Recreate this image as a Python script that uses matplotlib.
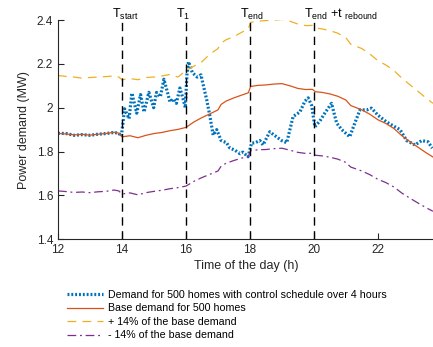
import numpy as np
import matplotlib
matplotlib.use("Agg")
import matplotlib.pyplot as plt

plt.rcParams['font.family'] = ['Liberation Sans', 'DejaVu Sans']
plt.rcParams['mathtext.fontset'] = 'custom'
plt.rcParams['mathtext.rm'] = 'Liberation Sans'

# base demand for 500 homes
t_base = [12.0, 12.25, 12.5, 12.75, 13.0, 13.25, 13.5, 13.75, 13.9, 14.0, 14.25, 14.5,
          14.75, 15.0, 15.25, 15.5, 15.75, 16.0, 16.25, 16.5, 16.75, 17.0, 17.1, 17.25,
          17.5, 17.75, 17.95, 18.02, 18.25, 18.5, 18.75, 19.0, 19.25, 19.5, 19.75, 19.95,
          20.05, 20.25, 20.5, 20.75, 21.0, 21.15, 21.5, 21.75, 22.0, 22.25, 22.5, 22.75,
          23.0, 23.25, 23.5, 23.72]
base = [1.883, 1.880, 1.876, 1.878, 1.875, 1.879, 1.882, 1.888, 1.884, 1.867, 1.872, 1.863,
        1.874, 1.882, 1.887, 1.895, 1.901, 1.910, 1.935, 1.955, 1.972, 1.990, 2.015, 2.030,
        2.045, 2.058, 2.068, 2.097, 2.102, 2.104, 2.108, 2.110, 2.100, 2.088, 2.083, 2.084,
        2.073, 2.070, 2.063, 2.052, 2.035, 2.010, 1.990, 1.970, 1.945, 1.928, 1.905, 1.872,
        1.845, 1.820, 1.795, 1.775]
upper = [2.147, 2.143, 2.140, 2.135, 2.138, 2.140, 2.142, 2.145, 2.140, 2.128, 2.133, 2.128,
         2.138, 2.140, 2.145, 2.152, 2.140, 2.170, 2.190, 2.210, 2.245, 2.270, 2.295, 2.310,
         2.325, 2.345, 2.360, 2.390, 2.395, 2.398, 2.400, 2.403, 2.395, 2.382, 2.375, 2.376,
         2.364, 2.360, 2.352, 2.340, 2.320, 2.290, 2.270, 2.245, 2.215, 2.195, 2.170, 2.135,
         2.105, 2.075, 2.045, 2.020]
lower = [1.620, 1.617, 1.613, 1.615, 1.612, 1.616, 1.618, 1.624, 1.620, 1.606, 1.611, 1.602,
         1.612, 1.618, 1.623, 1.630, 1.635, 1.642, 1.664, 1.681, 1.696, 1.711, 1.733, 1.746,
         1.759, 1.770, 1.778, 1.803, 1.808, 1.809, 1.813, 1.815, 1.806, 1.796, 1.791, 1.792,
         1.783, 1.780, 1.774, 1.765, 1.750, 1.729, 1.711, 1.694, 1.673, 1.658, 1.638, 1.610,
         1.587, 1.565, 1.544, 1.527]

# demand with control schedule
t_ctrl = [12.0, 12.25, 12.5, 12.75, 13.0, 13.25, 13.5, 13.75, 13.9, 13.98, 14.03, 14.08,
          14.22, 14.31, 14.46, 14.58, 14.69, 14.84, 14.99, 15.08, 15.2, 15.31, 15.5, 15.62,
          15.7, 15.81, 15.92, 15.98, 16.03, 16.08, 16.2, 16.35, 16.47, 16.53, 16.65, 16.75,
          16.85, 16.96, 17.1, 17.27, 17.37, 17.53, 17.69, 17.78, 17.94, 18.05, 18.16, 18.31,
          18.41, 18.62, 18.83, 18.99, 19.15, 19.25, 19.35, 19.56, 19.72, 19.82, 19.93, 20.03,
          20.19, 20.34, 20.55, 20.71, 20.87, 21.12, 21.28, 21.44, 21.65, 21.8, 22.0, 22.27,
          22.53, 22.69, 22.9, 23.16, 23.37, 23.57, 23.7]
ctrl = [1.883, 1.882, 1.874, 1.877, 1.874, 1.879, 1.882, 1.887, 1.883, 1.870, 1.930, 1.995,
        1.950, 2.067, 1.975, 2.060, 1.980, 2.070, 2.000, 2.070, 2.050, 2.130, 2.027, 2.040,
        2.020, 2.090, 2.035, 2.000, 2.150, 2.210, 2.160, 2.140, 2.150, 2.110, 2.035, 1.960,
        1.875, 1.900, 1.850, 1.840, 1.816, 1.806, 1.790, 1.797, 1.776, 1.838, 1.840, 1.850,
        1.830, 1.890, 1.867, 1.850, 1.840, 1.900, 1.960, 1.980, 2.030, 2.045, 2.010, 1.913,
        1.940, 1.975, 2.020, 1.930, 1.900, 1.867, 1.930, 1.990, 1.990, 1.998, 1.966, 1.935,
        1.913, 1.900, 1.850, 1.830, 1.850, 1.844, 1.815]

events = [14, 16, 18, 20]
event_labels = [r'$\mathregular{T_{start}}$', r'$\mathregular{T_{1}}$',
                r'$\mathregular{T_{end}}$', r'$\mathregular{T_{end}}$ +t $\mathregular{_{rebound}}$']

blue, red, yellow, purple = '#0072BD', '#D95319', '#EDB120', '#7E2F8E'

fig = plt.figure(figsize=(4.33, 3.47), dpi=100)
ax = fig.add_axes([0.134, 0.311, 0.868, 0.631])

l1, = ax.plot(t_ctrl, ctrl, color=blue, lw=2.3, linestyle=(0, (0.6, 0.6)))
l2, = ax.plot(t_base, base, color=red, lw=0.9)
l3, = ax.plot(t_base, upper, color=yellow, lw=0.9, linestyle=(0, (7, 5)))
l4, = ax.plot(t_base, lower, color=purple, lw=0.9, linestyle=(0, (7, 3, 1.5, 3)))

for x, lab in zip(events, event_labels):
    ax.plot([x, x], [1.4, 2.4], color='black', lw=1, linestyle=(0, (6, 4)))
    ax.text(x - 0.3, 2.412, lab, fontsize=9, ha='left', va='baseline')

ax.set_xlim(12, 23.75)
ax.set_ylim(1.4, 2.4)
ax.set_xticks([12, 14, 16, 18, 20, 22])
ax.set_yticks([1.4, 1.6, 1.8, 2.0, 2.2, 2.4])
ax.set_yticklabels(['1.4', '1.6', '1.8', '2', '2.2', '2.4'])
for s in ['top', 'right']:
    ax.spines[s].set_visible(False)
for s in ['left', 'bottom']:
    ax.spines[s].set_color('#262626')
    ax.spines[s].set_linewidth(0.8)
ax.tick_params(direction='in', length=4, width=0.8, labelsize=8.5, colors='#262626')
ax.set_xlabel('Time of the day (h)', fontsize=9, color='#262626', labelpad=3)
ax.set_ylabel('Power demand (MW)', fontsize=9, color='#262626', labelpad=5)

fig.legend([l1, l2, l3, l4],
           ['Demand for 500 homes with control schedule over 4 hours',
            'Base demand for 500 homes',
            '+ 14% of the base demand',
            '- 14% of the base demand'],
           loc='upper left', bbox_to_anchor=(0.155, 0.165), frameon=False,
           fontsize=7.7, handlelength=3.4, handletextpad=0.45, labelspacing=0.33,
           borderpad=0, borderaxespad=0)

fig.savefig('out.png', dpi=100)
